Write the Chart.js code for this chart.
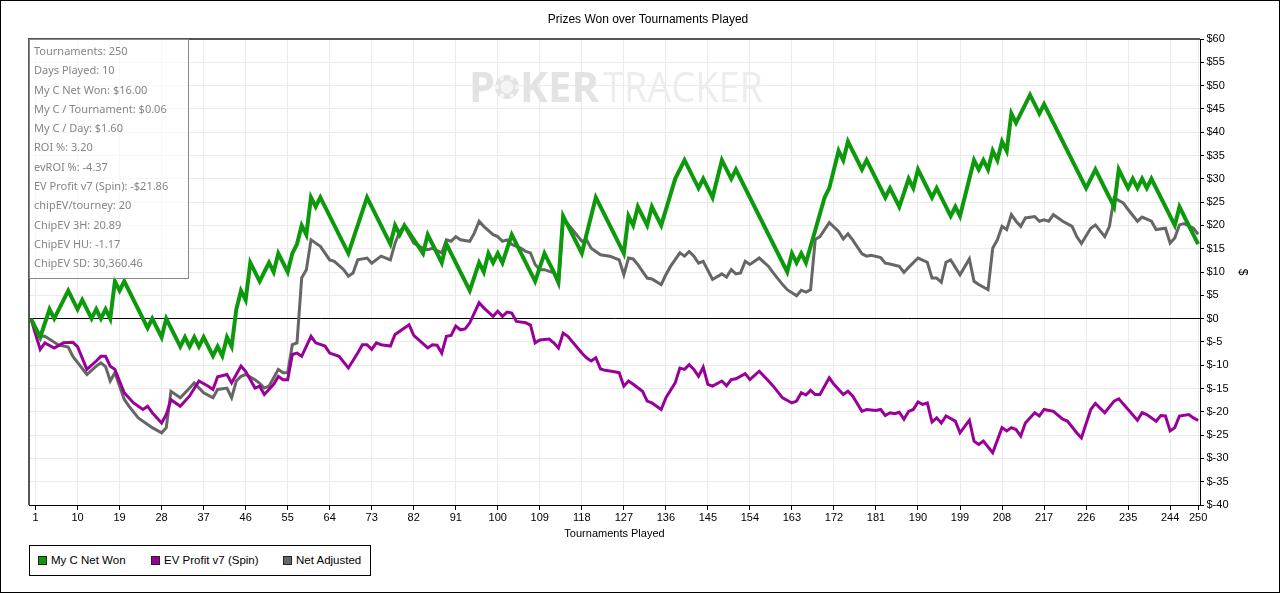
<!DOCTYPE html>
<html>
<head>
<meta charset="utf-8">
<script src="https://cdn.jsdelivr.net/npm/chart.js@4.4.1/dist/chart.umd.min.js"></script>
<style>
  body { margin: 0; background: #fff; }
  #wrap { position: relative; width: 1280px; height: 593px; }
  #stats {
    position: absolute; left: 29px; top: 39px; width: 154px; height: 237px;
    border: 1px solid #888; background: rgba(255,255,255,0.65);
    font: 11px "Noto Sans", sans-serif; color: #858585;
    padding: 1px 0 0 4px; box-sizing: content-box; line-height: 19.3px;
  }
  #legend {
    position: absolute; left: 29px; top: 545px; width: 340px; height: 29px;
    border: 1px solid #000; background: #fff;
    font: 11.5px "Liberation Sans", Arial, sans-serif; color: #000;
  }
  #legend .item { position: absolute; top: 8px; white-space: nowrap; }
  #legend .box {
    display: inline-block; width: 7px; height: 7px; border: 1px solid #222;
    vertical-align: -1px; margin-right: 4px;
  }
</style>
</head>
<body>
<div id="wrap">
  <canvas id="chart" width="1280" height="593"></canvas>
  <div id="stats"></div>
  <div id="legend"></div>
</div>
<script>
// x axis ticks (tournament numbers)
const xTicks = [1, 10, 19, 28, 37, 46, 55, 64, 73, 82, 91, 100, 109, 118, 127, 136, 145, 154, 163, 172, 181, 190, 199, 208, 217, 226, 235, 244, 250];

// series names, in legend order
const seriesNames = ['My C Net Won', 'EV Profit v7 (Spin)', 'Net Adjusted'];

// My C Net Won - turning points (tournament, $)
const netWonT = [0, 2, 4, 5, 8, 10, 11, 13, 14, 15, 16, 17, 18, 19, 20, 24, 25, 26, 28, 29, 32, 33, 34, 35, 36, 37, 39, 40, 41, 42, 43, 44, 45, 46, 47, 49, 50, 51, 52, 53, 55, 56, 57, 58, 59, 60, 61, 62, 68, 70, 72, 77, 78, 79, 80, 84, 85, 88, 89, 94, 96, 97, 98, 99, 100, 101, 103, 108, 110, 113, 114, 118, 121, 124, 127, 128, 129, 130, 132, 133, 135, 138, 140, 143, 144, 146, 148, 150, 151, 162, 163, 164, 165, 166, 170, 171, 173, 174, 175, 178, 179, 183, 184, 186, 188, 189, 190, 193, 194, 197, 198, 199, 202, 203, 204, 205, 206, 207, 208, 209, 210, 211, 214, 216, 217, 226, 228, 232, 233, 235, 236, 237, 238, 239, 240, 245, 246, 250];
const netWonV = [0, -4, 2, 0, 6, 2, 4, 0, 2, 0, 2, 0, 8, 6, 8, 0, -2, 0, -4, 0, -6, -4, -6, -4, -6, -4, -8, -6, -8, -4, -6, 2, 6, 4, 12, 8, 10, 12, 10, 14, 10, 14, 16, 20, 18, 26, 24, 26, 14, 20, 26, 16, 20, 18, 20, 14, 18, 12, 16, 6, 12, 10, 14, 12, 14, 12, 18, 8, 14, 8, 22, 14, 26, 20, 14, 22, 20, 24, 20, 24, 20, 30, 34, 28, 30, 26, 34, 30, 32, 10, 14, 12, 14, 12, 26, 28, 36, 34, 38, 32, 34, 26, 28, 24, 30, 28, 32, 26, 28, 22, 24, 22, 34, 32, 34, 32, 36, 34, 38, 36, 44, 42, 48, 44, 46, 28, 32, 24, 32, 28, 30, 28, 30, 28, 30, 20, 24, 16];

// EV Profit v7 (Spin)
const evT = [0, 2, 3, 5, 7, 9, 10, 12, 14, 15, 16, 17, 18, 20, 22, 24, 25, 26, 28, 29, 30, 32, 34, 36, 38, 39, 40, 42, 43, 45, 46, 48, 49, 50, 52, 53, 54, 55, 56, 57, 58, 60, 61, 63, 64, 66, 68, 70, 71, 72, 73, 74, 75, 77, 78, 79, 81, 82, 85, 86, 87, 88, 89, 90, 91, 92, 93, 94, 96, 97, 99, 100, 101, 102, 103, 104, 106, 107, 108, 109, 111, 112, 113, 114, 115, 118, 119, 120, 121, 122, 123, 125, 126, 127, 128, 129, 131, 132, 133, 135, 136, 138, 139, 140, 141, 142, 143, 144, 145, 146, 148, 149, 150, 151, 153, 154, 156, 158, 159, 161, 163, 164, 165, 166, 167, 168, 169, 171, 172, 174, 175, 176, 178, 179, 181, 182, 183, 184, 185, 186, 187, 188, 189, 190, 191, 192, 193, 194, 195, 196, 198, 199, 201, 202, 203, 204, 206, 208, 209, 210, 211, 212, 213, 215, 216, 217, 219, 221, 222, 224, 225, 227, 228, 230, 232, 233, 235, 237, 238, 239, 241, 242, 243, 244, 245, 246, 248, 249, 250];
const evV = [0, -6.6, -5.2, -6.3, -5.2, -5.1, -6, -10.9, -9.1, -8.1, -8.1, -10.2, -10.9, -15.9, -18.1, -19.5, -18.8, -20.2, -22.4, -20.6, -17.4, -18.8, -16.6, -13.4, -14.5, -15.2, -12.5, -12, -13.8, -10.2, -11.3, -14.9, -14.5, -16.3, -14.1, -12.4, -13.1, -13.1, -7.7, -7.4, -8.1, -3.8, -5.2, -5.9, -7.4, -8.1, -10.6, -7.4, -5.6, -5.6, -6.6, -5.2, -5.6, -5.9, -3.4, -2.7, -1.3, -3.6, -6.3, -5.6, -5.7, -7.4, -3.8, -3.6, -1.6, -2.4, -2.2, -0.9, 3.4, 2.3, 0.5, 1.6, 0.5, 1.4, 1.2, -0.6, -0.9, -1.4, -5.2, -4.6, -4.4, -5.2, -6.3, -3.1, -3.8, -7.4, -8.4, -9.1, -8.4, -10.8, -11.1, -11.4, -11.6, -14.5, -13.4, -14.1, -15.6, -17.7, -18.1, -19.5, -17, -13.8, -10.6, -10.9, -9.9, -10.9, -12.4, -10.4, -14.1, -14.5, -13.4, -14.4, -13.1, -12.9, -11.8, -13.1, -11.3, -13.4, -14.5, -17, -18.1, -17.7, -15.9, -16.4, -15.4, -16.3, -16.3, -12.7, -14.1, -16.3, -15.6, -16.6, -19.9, -19.5, -19.7, -19.5, -20.8, -20.2, -20.4, -20.1, -21.6, -19.9, -19.5, -17.9, -18.4, -18.1, -22.2, -21.3, -22.4, -20.9, -22, -24.5, -21.8, -26.3, -27, -26.3, -28.8, -23.4, -24.1, -23.4, -23.8, -25.2, -22.4, -20.2, -20.9, -19.5, -19.9, -21.6, -22, -24.5, -25.6, -19.5, -18.2, -20.2, -17.7, -17.2, -19.5, -21.8, -20.2, -20.6, -22, -20.8, -20.9, -24.1, -23.4, -20.9, -20.6, -21.3, -21.86];

// Net Adjusted
const adjT = [0, 2, 3, 6, 8, 9, 12, 14, 15, 16, 17, 18, 20, 21, 23, 26, 28, 29, 30, 32, 34, 35, 37, 39, 40, 42, 43, 44, 45, 46, 48, 49, 50, 51, 53, 54, 55, 56, 57, 58, 59, 60, 61, 62, 64, 65, 67, 68, 69, 70, 72, 73, 75, 77, 78, 79, 80, 82, 84, 85, 86, 88, 89, 90, 91, 92, 94, 95, 96, 97, 99, 100, 101, 102, 103, 105, 106, 107, 108, 109, 110, 112, 113, 114, 116, 118, 119, 120, 122, 124, 126, 127, 128, 129, 130, 132, 133, 135, 136, 137, 139, 140, 141, 142, 143, 144, 146, 148, 149, 150, 151, 152, 153, 154, 156, 158, 159, 161, 162, 164, 165, 166, 167, 168, 169, 171, 173, 174, 175, 176, 178, 179, 180, 182, 183, 184, 186, 187, 188, 190, 192, 193, 194, 195, 196, 197, 199, 201, 202, 203, 205, 206, 207, 208, 209, 210, 211, 212, 213, 215, 216, 217, 218, 219, 221, 223, 224, 225, 227, 228, 230, 231, 232, 234, 235, 237, 238, 240, 241, 243, 244, 245, 246, 247, 249, 250];
const adjV = [0, -3.8, -3.8, -5.7, -6.1, -8.1, -12, -10.2, -9.5, -10.3, -13.4, -11.6, -17.3, -18.8, -21.3, -23.4, -24.5, -23.4, -15.6, -17, -14.9, -13.8, -15.9, -17, -15.2, -14.9, -17, -13.4, -12.4, -12, -13.1, -13.9, -14.9, -14.5, -10.9, -11.6, -11.6, -5.6, -5.2, 8.7, 10.5, 16.9, 16.2, 15.5, 12.6, 12.3, 10.5, 9.1, 9.8, 12.6, 13, 11.9, 13.4, 12.6, 16.2, 18.7, 19.8, 16.2, 15.1, 14.8, 15.1, 14.1, 16.9, 16.6, 17.6, 16.9, 16.6, 18.4, 20.9, 19.8, 18, 17.6, 16.6, 16.9, 15.9, 15.1, 14.4, 14.1, 11.6, 10.5, 10.5, 9.8, 7.4, 21.6, 19.1, 16.6, 16.9, 15.1, 13.7, 13.4, 12.6, 9.4, 13, 12.8, 11.6, 8.7, 8.5, 7.3, 9.4, 11.2, 14.1, 13.4, 14.4, 13.4, 11.9, 12.3, 8.4, 9.6, 8.9, 10.5, 9.6, 9.8, 12.3, 11.6, 13, 11.2, 9.8, 7.3, 6.2, 4.9, 6.1, 5.7, 6.2, 17, 17.6, 20.6, 18.7, 17.1, 18.2, 16.9, 13.9, 13.4, 13.6, 13.1, 11.9, 11.7, 11.2, 9.9, 11, 13, 12.1, 8.7, 8.7, 7.8, 12.1, 12.6, 9.4, 12.8, 8, 7.3, 6.2, 15.1, 16.9, 19.8, 19.1, 22.3, 20.9, 19.8, 21.6, 21.9, 20.9, 21.2, 20.9, 22.3, 20.9, 19.8, 17.6, 16.1, 19.4, 20.1, 17.6, 19.8, 25.9, 24.8, 23.4, 20.9, 21.8, 20.9, 19.1, 19.4, 16.2, 17.3, 20.1, 20.4, 19.4, 18.1];

// summary box lines
const statLines = [
  'Tournaments: 250',
  'Days Played: 10',
  'My C Net Won: $16.00',
  'My C / Tournament: $0.06',
  'My C / Day: $1.60',
  'ROI %: 3.20',
  'evROI %: -4.37',
  'EV Profit v7 (Spin): -$21.86',
  'chipEV/tourney: 20',
  'ChipEV 3H: 20.89',
  'ChipEV HU: -1.17',
  'ChipEV SD: 30,360.46'
];

const seriesColors = ['#0c990c', '#990099', '#666666'];
const seriesWidths = [4, 3, 3];

function toPoints(xs, ys) {
  return xs.map((x, i) => ({ x: x, y: ys[i] }));
}

// title, watermark, plot frame and outer border
const decorPlugin = {
  id: 'decor',
  beforeDatasetsDraw(chart) {
    const ctx = chart.ctx;
    ctx.save();
    // PokerTracker watermark
    ctx.textBaseline = 'alphabetic';
    ctx.fillStyle = '#e3e3e3';
    ctx.font = 'bold 42px "Open Sans", sans-serif';
    ctx.fillText('P', 469, 102, 26);
    ctx.fillText('KER', 520, 102, 83);
    ctx.beginPath();
    ctx.arc(507, 87, 12, 0, Math.PI * 2);
    ctx.fill();
    ctx.fillStyle = '#f4f4f4';
    ctx.beginPath();
    ctx.arc(507, 87, 6.5, 0, Math.PI * 2);
    ctx.fill();
    for (let k = 0; k < 6; k++) {
      const a = k * Math.PI / 3;
      ctx.fillRect(507 + Math.cos(a) * 10 - 2, 87 + Math.sin(a) * 10 - 2, 4, 4);
    }
    ctx.fillStyle = '#ededed';
    ctx.font = '42px "Open Sans", sans-serif';
    ctx.fillText('TRACKER', 603, 102, 160);
    ctx.restore();
  },
  afterDraw(chart) {
    const ctx = chart.ctx;
    const a = chart.chartArea;
    ctx.save();
    ctx.strokeStyle = '#555';
    ctx.lineWidth = 2;
    ctx.beginPath();
    ctx.moveTo(a.left, a.bottom);
    ctx.lineTo(a.left, a.top);
    ctx.lineTo(a.right, a.top);
    ctx.stroke();
    ctx.fillStyle = '#000';
    ctx.font = '12px "Liberation Sans", Arial, sans-serif';
    ctx.textAlign = 'center';
    ctx.textBaseline = 'middle';
    ctx.fillText('Prizes Won over Tournaments Played', 648, 20);
    ctx.strokeStyle = '#000';
    ctx.lineWidth = 1;
    ctx.strokeRect(0.5, 0.5, chart.width - 1, chart.height - 1);
    ctx.restore();
  }
};

const tickFont = { family: '"Liberation Sans", Arial, sans-serif', size: 11 };

new Chart(document.getElementById('chart'), {
  type: 'line',
  data: {
    datasets: [
      { label: seriesNames[0], data: toPoints(netWonT, netWonV) },
      { label: seriesNames[1], data: toPoints(evT, evV) },
      { label: seriesNames[2], data: toPoints(adjT, adjV) }
    ].map((d, i) => Object.assign(d, {
      borderColor: seriesColors[i],
      backgroundColor: seriesColors[i],
      borderWidth: seriesWidths[i],
      pointRadius: 0,
      tension: 0,
      fill: false
    }))
  },
  options: {
    responsive: false,
    animation: false,
    devicePixelRatio: 1,
    layout: { padding: { left: 29, right: 0, top: 39, bottom: 48 } },
    plugins: {
      legend: { display: false },
      title: { display: false },
      tooltip: { enabled: false }
    },
    scales: {
      x: {
        type: 'linear',
        min: -0.4,
        max: 250.4,
        afterBuildTicks: (scale) => { scale.ticks = xTicks.map(v => ({ value: v })); },
        afterFit: (scale) => { scale.height = 40; },
        ticks: {
          autoSkip: false, maxRotation: 0, padding: 1, color: '#000', font: tickFont,
          callback: (v) => String(v)
        },
        grid: { color: '#ebebeb', tickColor: '#000', tickLength: 5 },
        border: { color: '#000' },
        title: {
          display: true, text: 'Tournaments Played', color: '#000',
          font: { family: '"Liberation Sans", Arial, sans-serif', size: 11 },
          padding: { top: 0, bottom: 4 }
        }
      },
      y: {
        type: 'linear',
        position: 'right',
        min: -40,
        max: 60,
        afterFit: (scale) => { scale.width = 80; },
        ticks: {
          stepSize: 5, padding: 2.5, color: '#000', font: tickFont,
          callback: (v) => '$' + v
        },
        grid: {
          color: (c) => (c.tick && c.tick.value === 0 ? '#000' : '#ebebeb'),
          tickColor: '#000', tickLength: 4
        },
        border: { color: '#000' },
        title: {
          display: true, text: '$', color: '#000',
          font: { family: '"Liberation Sans", Arial, sans-serif', size: 12 },
          padding: { top: 30, bottom: 4 }
        }
      }
    }
  },
  plugins: [decorPlugin]
});

// summary box and legend as html
document.getElementById('stats').innerHTML = statLines.map(s => '<div>' + s + '</div>').join('');

const legendLeft = [8, 121, 253];
document.getElementById('legend').innerHTML = seriesNames.map((name, i) =>
  '<span class="item" style="left:' + legendLeft[i] + 'px"><span class="box" style="background:' +
  seriesColors[i] + '"></span>' + name + '</span>').join('');
</script>
</body>
</html>
